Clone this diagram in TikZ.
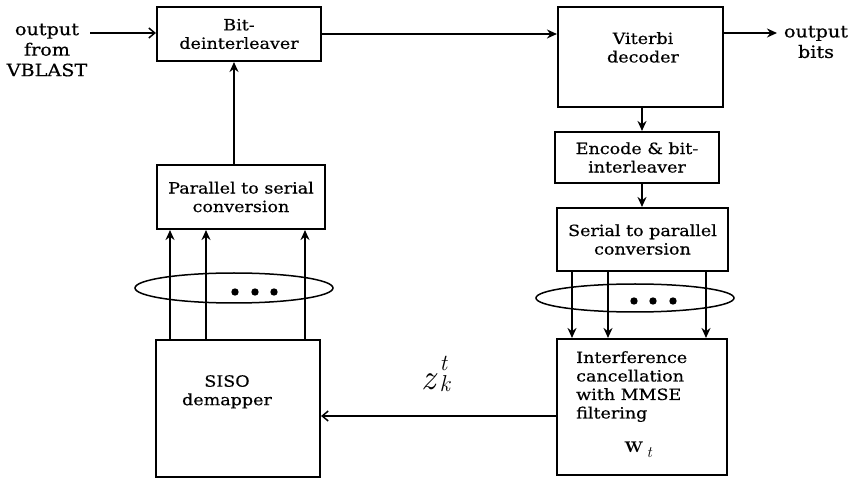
\documentclass[tikz,border=0pt]{standalone}
\usepackage{fontspec}
\setmainfont{DejaVu Serif}[FakeStretch=1.13,FakeBold=0.5]
\newfontfamily\lmfont{Latin Modern Roman}
\usetikzlibrary{arrows.meta,calc}
\newcommand{\dgfont}{\fontsize{15.5}{18.5}\selectfont}
\newcommand{\dgout}{\fontsize{17}{20.5}\selectfont}
\begin{document}
\begin{tikzpicture}[x=1pt,y=-1pt,
  box/.style={draw, line width=2.1pt, align=center, inner sep=0pt, font=\dgfont},
  txt/.style={inner sep=0pt, font=\dgfont},
  arr/.style={line width=1.9pt, -{Stealth[length=10pt,width=9pt]}},
  barb/.style={line width=1.9pt, -{Straight Barb[length=6pt,width=10pt,line width=1.5pt]}},
  ring/.style={line width=1.5pt},
]
\useasboundingbox (0,0) rectangle (855,478);
% boxes
\node[box, minimum width=164pt, minimum height=54pt] (bd) at (239,34) {Bit-\\deinterleaver};
\node[box, minimum width=165pt, minimum height=100pt] (vit) at (640.5,57) {};
\node[box, minimum width=164pt, minimum height=51pt] (enc) at (637,157.5) {Encode \& bit-\\interleaver};
\node[box, minimum width=171pt, minimum height=63pt] (s2p) at (642.5,239.5) {Serial to parallel\\conversion};
\node[box, minimum width=168pt, minimum height=64pt] (p2s) at (241,197) {Parallel to serial\\conversion};
\node[box, minimum width=164pt, minimum height=137pt] (siso) at (238,408.5) {};
\node[box, minimum width=170pt, minimum height=136pt] (ic) at (642,407) {};
% texts inside the plain boxes
\node[txt, align=center, anchor=north] (vitt) at (643,32) {Viterbi\\decoder};
\node[txt, align=center, anchor=north] (sisot) at (227,375) {SISO\\demapper};
\node[txt, align=left, anchor=north west] (ict) at (576,351) {Interference\\cancellation\\with MMSE\\filtering};
\node[inner sep=0pt, anchor=base west] (wt) at (624,453) {\lmfont\bfseries\fontsize{24}{24}\selectfont w\kern3pt\mdseries\itshape\fontsize{16}{16}\selectfont\raisebox{-5pt}{t}};
% outside texts
\node[inner sep=0pt, font=\dgout, align=center] (intxt) at (47,50) {output\\from\\VBLAST};
\node[inner sep=0pt, font=\dgout, align=center] (outtxt) at (816,42) {output\\bits};
\node[inner sep=0pt, anchor=base west] (zl) at (421,390) {\lmfont\itshape\fontsize{36}{36}\selectfont z\fontsize{23}{23}\selectfont\kern4pt\rlap{\raisebox{19pt}{t}}\raisebox{-2pt}{k}};
% coordinates
\coordinate (inp) at (90,33);
\coordinate (outp) at (777,33);
% connectors
\draw[barb] (inp) -- (inp -| bd.west);
\draw[arr] (bd.east) -- (bd.east -| vit.west);
\draw[arr] (vit.east |- outp) -- (outp);
\draw[arr] ([xshift=1.5pt]vit.south) -- ([xshift=1.5pt]vit.south |- enc.north);
\draw[arr] ([xshift=1.5pt]vit.south |- enc.south) -- ([xshift=1.5pt]vit.south |- s2p.north);
\draw[arr] ([xshift=-7pt]p2s.north) -- ([xshift=-7pt]p2s.north |- bd.south);
\foreach \dx in {-68,-32,67}
  \draw[arr] ([xshift=\dx pt]siso.north) -- ([xshift=\dx pt]siso.north |- p2s.south);
\foreach \dx in {-70.5,-34.5,63.5}
  \draw[arr] ([xshift=\dx pt]s2p.south) -- ([xshift=\dx pt]s2p.south |- ic.north);
\draw[barb] ([yshift=-9pt]ic.west) -- ([yshift=-9pt]ic.west -| siso.east);
% ellipses and dots
\draw[ring] (234,288) ellipse [x radius=99pt, y radius=15pt];
\draw[ring] (635,298) ellipse [x radius=99pt, y radius=14pt];
\foreach \x in {235,255,274} \fill (\x,292) circle [radius=3.7pt];
\foreach \x in {634,653,673} \fill (\x,301) circle [radius=3.7pt];
\end{tikzpicture}
\end{document}
